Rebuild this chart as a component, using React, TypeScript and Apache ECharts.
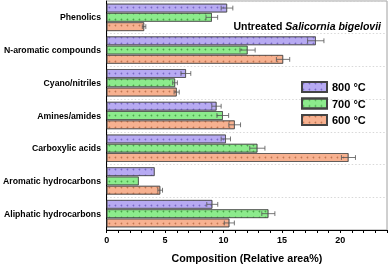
import React, { useEffect, useRef } from "react";
import * as echarts from "echarts";

// Categories, bottom to top (ECharts category y axis starts at bottom)
const categories = [
  "Aliphatic hydrocarbons",
  "Aromatic hydrocarbons",
  "Carboxylic acids",
  "Amines/amides",
  "Cyano/nitriles",
  "N-aromatic compounds",
  "Phenolics",
];

const seriesNames = ["800 °C", "700 °C", "600 °C"];

const values800 = [9.04, 4.1, 10.2, 9.4, 6.78, 17.9, 10.3];
const errors800 = [0.47, 0, 0.4, 0.4, 0.42, 0.7, 0.5];

const values700 = [13.84, 2.74, 12.9, 9.94, 5.85, 12.06, 9.0];
const errors700 = [0.56, 0, 0.65, 0.5, 0.2, 0.65, 0.5];

const values600 = [10.5, 4.58, 20.7, 10.96, 5.99, 15.1, 3.2];
const errors600 = [0.43, 0.2, 0.6, 0.5, 0.22, 0.57, 0.15];

const xTickValues = [0, 5, 10, 15, 20];

const fills = ["#b7aaf2", "#8ceb8c", "#f7b190"];
const dotColors = ["rgba(70,50,160,0.55)", "rgba(20,110,20,0.55)", "rgba(150,70,30,0.55)"];

const BAR_W = 8.6;
const BAR_GAP = 0.7;

export default function App() {
  const ref = useRef<HTMLDivElement>(null);
  useEffect(() => {
    document.body.style.margin = "0";
    const chart = echarts.init(ref.current!, null, { renderer: "svg" });
    const vals = [values800, values700, values600];
    const errs = [errors800, errors700, errors600];
    // series 0 sits at the top of each group
    const offsets = [-(BAR_W + BAR_GAP), 0, BAR_W + BAR_GAP];

    const barSeries = seriesNames.map((name, i) => ({
      name,
      type: "bar",
      data: vals[i],
      barWidth: BAR_W,
      barGap: "8%",
      barCategoryGap: "18%",
      itemStyle: {
        color: fills[i],
        borderColor: "#444",
        borderWidth: 0.6,
        decal: {
          symbol: "circle",
          symbolSize: 0.55,
          dashArrayX: 3,
          dashArrayY: 3,
          color: dotColors[i],
        },
      },
      z: 2,
    }));

    const errSeries = seriesNames.map((name, i) => ({
      name: name + " err",
      type: "custom",
      z: 5,
      encode: { x: 0, y: 1 },
      data: vals[i].map((v, c) => [v, c, errs[i][c]]),
      renderItem: (params: any, api: any) => {
        const v = api.value(0);
        const c = api.value(1);
        const e = api.value(2);
        if (!e) return null;
        const p = api.coord([v, c]);
        const y = p[1] + offsets[i];
        const l = api.coord([v - e, c])[0];
        const r = api.coord([v + e, c])[0];
        const h = 2.4;
        const st = { stroke: "#555", lineWidth: 0.8 };
        return {
          type: "group",
          children: [
            { type: "line", shape: { x1: l, y1: y, x2: r, y2: y }, style: st },
            { type: "line", shape: { x1: l, y1: y - h, x2: l, y2: y + h }, style: st },
            { type: "line", shape: { x1: r, y1: y - h, x2: r, y2: y + h }, style: st },
          ],
        };
      },
    }));

    chart.setOption({
      animation: false,
      textStyle: { fontFamily: "Liberation Sans, Arial, sans-serif" },
      title: {
        text: "{a|Untreated }{b|Salicornia bigelovii}",
        right: 4,
        top: 15,
        textStyle: {
          rich: {
            a: { fontSize: 10.5, fontWeight: "bold", color: "#000", fontFamily: "Liberation Sans" },
            b: {
              fontSize: 10.5,
              fontWeight: "bold",
              fontStyle: "italic",
              color: "#000",
              fontFamily: "Liberation Sans",
            },
          },
        },
      },
      legend: {
        data: ["800 °C", "700 °C", "600 °C"],
        orient: "vertical",
        left: 296,
        top: 76,
        itemWidth: 25,
        itemHeight: 10,
        itemGap: 4.5,
        icon: "rect",
        textStyle: { fontSize: 11, fontWeight: "bold", color: "#000", fontFamily: "Liberation Sans" },
      },
      grid: {
        left: 105,
        right: 2,
        top: 1,
        bottom: 35,
        show: true,
        borderColor: "#a0a0a0",
        borderWidth: 1,
      },
      xAxis: {
        type: "value",
        min: 0,
        max: 24,
        interval: 1,
        name: "Composition (Relative area%)",
        nameLocation: "middle",
        nameGap: 22,
        nameTextStyle: { fontSize: 10.7, fontWeight: "bold", color: "#000", fontFamily: "Liberation Sans" },
        axisLine: { show: true, lineStyle: { color: "#000", width: 1 } },
        axisTick: { show: true, length: 3, lineStyle: { color: "#000" } },
        axisLabel: {
          fontSize: 9,
          fontWeight: "bold",
          color: "#000",
          margin: 5,
          fontFamily: "Liberation Sans",
          formatter: (v: number) => (xTickValues.includes(v) ? String(v) : ""),
        },
        splitLine: { show: false },
      },
      yAxis: {
        type: "category",
        data: categories,
        axisLine: { show: true, lineStyle: { color: "#000", width: 1 } },
        axisTick: { show: false },
        axisLabel: {
          fontSize: 8.7,
          fontWeight: "bold",
          color: "#000",
          margin: 5.7,
          fontFamily: "Liberation Sans",
        },
        splitLine: { show: true, lineStyle: { color: "#d8d8d8", type: [1.5, 2], width: 1 } },
      },
      series: [...barSeries, ...errSeries],
    });
    return () => chart.dispose();
  }, []);
  return <div ref={ref} style={{ position: "fixed", left: 0, top: 0, width: 390, height: 268 }} />;
}
